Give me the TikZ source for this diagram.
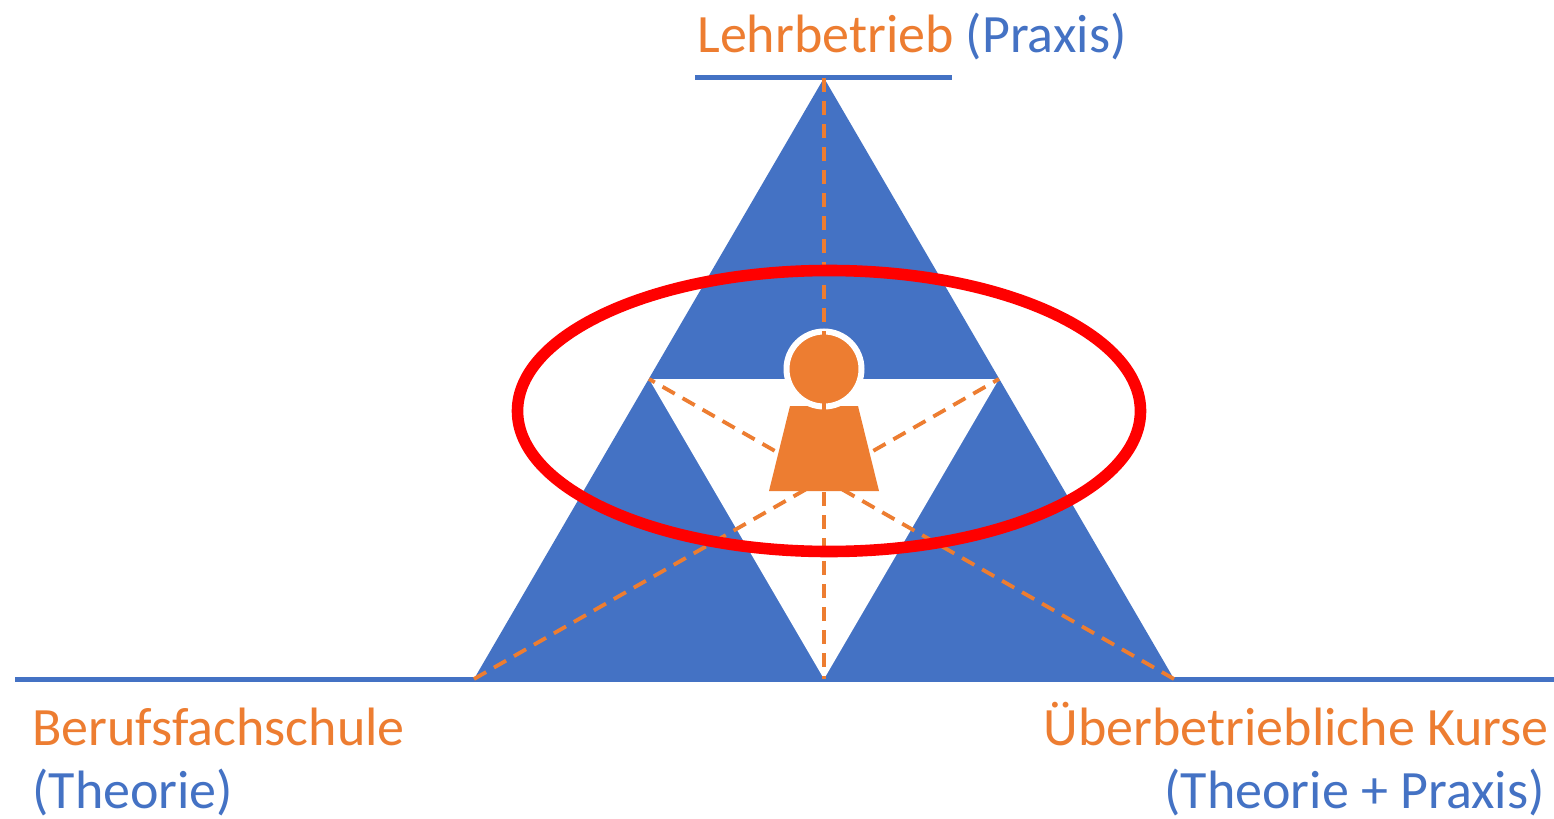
\documentclass[tikz,border=0pt]{standalone}
\usepackage{fontspec}
\setmainfont{Carlito}
\definecolor{ablue}{HTML}{4472C4}
\definecolor{aorange}{HTML}{ED7D31}
\definecolor{ared}{HTML}{FF0000}
\begin{document}
\begin{tikzpicture}[x=0.5pt,y=-0.5pt,
  bluebar/.style={draw=ablue,line width=2.5pt},
  median/.style={draw=aorange,line width=1.9pt,dash pattern=on 7pt off 4.5pt},
  lbl/.style={inner sep=0pt,font=\fontsize{27}{30}\selectfont}]
\useasboundingbox (0,0) rectangle (1554,819);
\fill[white] (0,0) rectangle (1554,819);
\coordinate (A) at (824,78);
\coordinate (BL) at (474,679);
\coordinate (BR) at (1174,679);
\coordinate (ML) at (649,379);
\coordinate (MR) at (999,379);
\coordinate (MB) at (824,679);
\coordinate (TL) at (695,77.5);
\coordinate (TR) at (952,77.5);
\coordinate (GL) at (15,679.5);
\coordinate (GR) at (1554,679.5);
% triangles
\fill[ablue] (A) -- (BL) -- (BR) -- cycle;
\fill[white] (ML) -- (MR) -- (MB) -- cycle;
% bars
\draw[bluebar] (TL) -- (TR);
\draw[bluebar] (GL) -- (GR);
% figure
\fill[aorange] (790,406) -- (858,406) -- (879,491) -- (769,491) -- cycle;
\filldraw[fill=aorange,draw=white,line width=3pt] (824,369) circle [radius=37.5];
% medians
\draw[median] (A) -- (MB);
\draw[median] (BL) -- (MR);
\draw[median] (BR) -- (ML);
% red ellipse
\draw[ared,line width=5.8pt] (829,411) ellipse [x radius=311.5, y radius=140.5];
% labels
\node[lbl,anchor=base west] (top) at (697,52) {\textcolor{aorange}{Lehrbetrieb} \textcolor{ablue}{(Praxis)}};
\node[lbl,anchor=base west,text=aorange] (bfs) at (32,745) {Berufsfachschule};
\node[lbl,anchor=base west,text=ablue] (bfs2) at (32,808) {(Theorie)};
\node[lbl,anchor=base east,text=aorange] (uek) at (1549,745) {Überbetriebliche Kurse};
\node[lbl,anchor=base east,text=ablue] (uek2) at (1545,808) {(Theorie + Praxis)};
\end{tikzpicture}
\end{document}
